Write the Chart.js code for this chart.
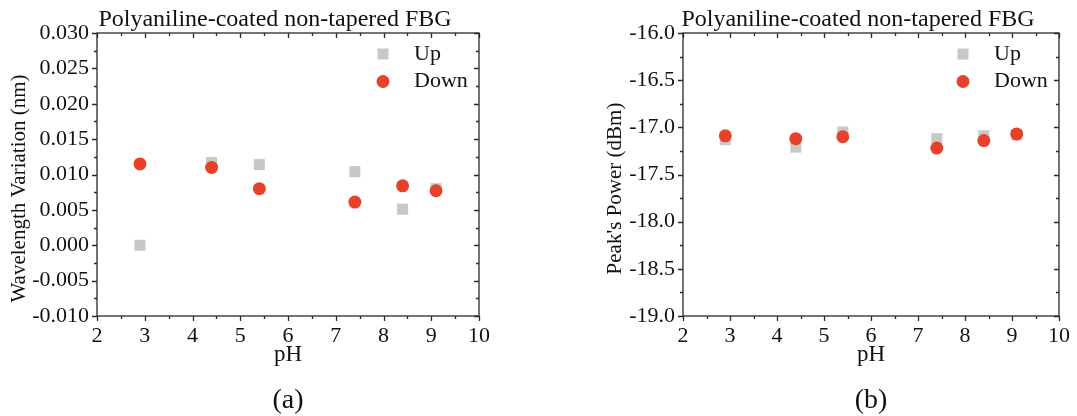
<!DOCTYPE html>
<html>
<head>
<meta charset="utf-8">
<title>Polyaniline-coated non-tapered FBG</title>
<script src="https://cdn.jsdelivr.net/npm/chart.js@4"></script>
<style>
  html, body { margin: 0; padding: 0; background: #fff; }
  #wrap { position: relative; width: 1077px; height: 416px; }
  .panel { position: absolute; top: 0; height: 416px; }
  #left { left: 0; width: 540px; }
  #right { left: 540px; width: 537px; }
</style>
</head>
<body>
<div id="wrap">
  <div class="panel" id="left"><canvas id="shiftChart"></canvas></div>
  <div class="panel" id="right"><canvas id="powerChart"></canvas></div>
</div>
<script>
// pH steps, same for both sweeps
const phValues = [2.9, 4.4, 5.4, 7.4, 8.4, 9.1];

// (a) Bragg wavelength shift, nm
const shiftUp = [0.0, 0.0117, 0.0114, 0.0104, 0.0051, 0.0080];
const shiftDown = [0.0115, 0.0110, 0.0080, 0.0061, 0.0084, 0.0077];

// (b) reflection peak power, dBm
const powerUp = [-17.13, -17.21, -17.05, -17.12, -17.09, -17.08];
const powerDown = [-17.09, -17.12, -17.10, -17.22, -17.14, -17.07];

const phRange = [2, 10];
const shiftRange = [-0.010, 0.030];
const powerRange = [-19.0, -16.0];

const serif = '"Liberation Serif", "Times New Roman", serif';
const ink = '#111';
const axisColor = '#2a2a2a';
const upColor = '#c8c8c8';
const downColor = '#e8412a';

function points(xs, ys) {
  return xs.map((x, i) => ({ x, y: ys[i] }));
}

// frame, inner/outer tick marks, titles and the legend box
const panelDecor = {
  id: 'panelDecor',
  afterDraw(chart, args, opts) {
    const { ctx, chartArea: a, scales: { x, y } } = chart;
    ctx.save();

    ctx.strokeStyle = axisColor;
    ctx.lineWidth = 1.3;
    ctx.strokeRect(a.left, a.top, a.width, a.height);

    const tickValues = scale => {
      const major = scale.ticks.map(t => t.value);
      const minor = [];
      for (let i = 0; i < major.length - 1; i++) minor.push((major[i] + major[i + 1]) / 2);
      return { major, minor };
    };

    ctx.beginPath();
    const xt = tickValues(x);
    [[xt.major, 5], [xt.minor, 3]].forEach(([vals, len]) => {
      vals.forEach(v => {
        const px = Math.round(x.getPixelForValue(v)) + 0.5;
        ctx.moveTo(px, a.bottom); ctx.lineTo(px, a.bottom + len);
        ctx.moveTo(px, a.top); ctx.lineTo(px, a.top + len);
      });
    });
    const yt = tickValues(y);
    [[yt.major, 5], [yt.minor, 3]].forEach(([vals, len]) => {
      vals.forEach(v => {
        const py = Math.round(y.getPixelForValue(v)) + 0.5;
        ctx.moveTo(a.left, py); ctx.lineTo(a.left - len, py);
        ctx.moveTo(a.right, py); ctx.lineTo(a.right - len, py);
      });
    });
    ctx.stroke();

    ctx.fillStyle = ink;
    ctx.font = '24px ' + serif;
    ctx.textAlign = 'center';
    ctx.textBaseline = 'alphabetic';
    ctx.fillText(opts.title, (a.left + a.right) / 2 - 13, 26);

    ctx.font = '21px ' + serif;
    ctx.save();
    ctx.translate(opts.yTitleX, (a.top + a.bottom) / 2 + 14);
    ctx.rotate(-Math.PI / 2);
    ctx.textBaseline = 'middle';
    ctx.fillText(opts.yTitle, 0, 0);
    ctx.restore();

    ctx.font = '28px ' + serif;
    ctx.textBaseline = 'middle';
    ctx.fillText(opts.label, (a.left + a.right) / 2, 401);

    // legend, top right inside the frame
    ctx.font = '22px ' + serif;
    ctx.textAlign = 'left';
    chart.data.datasets.forEach((ds, i) => {
      const ly = a.top + 21 + i * 27.5;
      ctx.fillStyle = ds.backgroundColor;
      ctx.strokeStyle = ds.backgroundColor;
      Chart.helpers.drawPoint(ctx, {
        pointStyle: ds.pointStyle, radius: ds.pointRadius, rotation: 0, borderWidth: 0
      }, a.right - 96, ly);
      ctx.fillStyle = ink;
      ctx.fillText(ds.label, a.right - 65, ly);
    });

    ctx.restore();
  }
};

function makeChart(id, up, down, yRange, yStep, digits, deco, yWidth, rightPad) {
  return new Chart(document.getElementById(id), {
    type: 'scatter',
    data: {
      datasets: [
        {
          label: 'Up', data: points(phValues, up), order: 2,
          pointStyle: 'rect', pointRadius: 7.8, pointHoverRadius: 7.8,
          backgroundColor: upColor, borderColor: upColor, borderWidth: 0
        },
        {
          label: 'Down', data: points(phValues, down), order: 1,
          pointStyle: 'circle', pointRadius: 6.5, pointHoverRadius: 6.5,
          backgroundColor: downColor, borderColor: downColor, borderWidth: 0
        }
      ]
    },
    options: {
      responsive: true,
      maintainAspectRatio: false,
      animation: false,
      events: [],
      layout: { padding: { left: 0, top: 33, right: rightPad, bottom: 44 } },
      scales: {
        x: {
          type: 'linear', min: phRange[0], max: phRange[1],
          grid: { display: false, drawTicks: false },
          border: { display: false },
          ticks: { stepSize: 1, padding: 7, color: ink, font: { family: serif, size: 22 } },
          title: { display: true, text: 'pH', color: ink, font: { family: serif, size: 23 }, padding: { top: 0, bottom: 3 } },
          afterFit: s => { s.height = 56; }
        },
        y: {
          type: 'linear', min: yRange[0], max: yRange[1],
          grid: { display: false, drawTicks: false },
          border: { display: false },
          ticks: {
            stepSize: yStep, padding: 8, color: ink, font: { family: serif, size: 22 },
            callback: v => (Math.abs(v) < 1e-9 ? 0 : v).toFixed(digits)
          },
          afterFit: s => { s.width = yWidth; }
        }
      },
      plugins: {
        legend: { display: false },
        tooltip: { enabled: false },
        panelDecor: deco
      }
    },
    plugins: [panelDecor]
  });
}

makeChart('shiftChart', shiftUp, shiftDown, shiftRange, 0.005, 3, {
  title: 'Polyaniline-coated non-tapered FBG',
  yTitle: 'Wavelength Variation (nm)',
  yTitleX: 19,
  label: '(a)'
}, 97, 61);

makeChart('powerChart', powerUp, powerDown, powerRange, 0.5, 1, {
  title: 'Polyaniline-coated non-tapered FBG',
  yTitle: "Peak's Power (dBm)",
  yTitleX: 75,
  label: '(b)'
}, 143, 13);
</script>
</body>
</html>
